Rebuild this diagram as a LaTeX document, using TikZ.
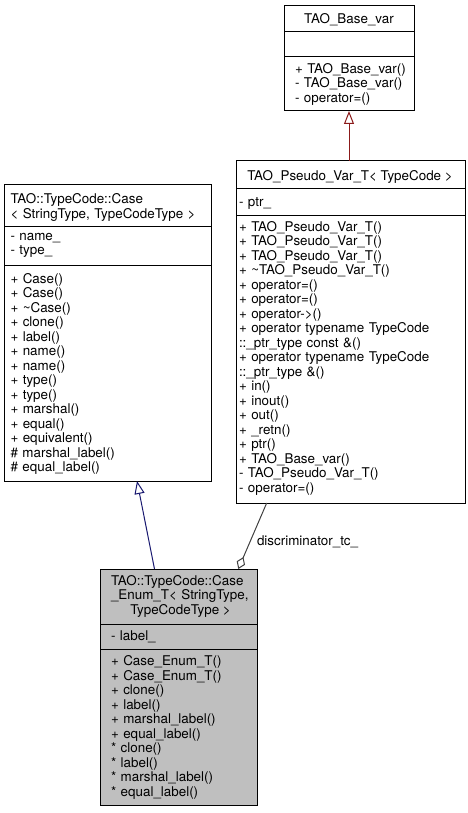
\documentclass[tikz,border=0pt]{standalone}
\usepackage{fontspec}
\setmainfont{TeX Gyre Heros}
\usetikzlibrary{arrows.meta}
\definecolor{inhred}{HTML}{8B1A1A}
\definecolor{inhblue}{HTML}{191970}
\definecolor{aggrgrey}{HTML}{404040}
\definecolor{boxgrey}{HTML}{BFBFBF}
\begin{document}
\begin{tikzpicture}[x=1pt,y=-1pt,
  cls/.style={draw=black, line width=1pt, inner sep=0pt, outer sep=0pt, anchor=north west},
  sep/.style={draw=black, line width=1pt},
  lbl/.style={anchor=base west, inner sep=0pt, outer sep=0pt, align=left, text width=#1,
    font=\fontsize{13.4}{14.5}\selectfont},
  ttl/.style={anchor=base, inner sep=0pt, outer sep=0pt, font=\fontsize{13.4}{14.5}\selectfont},
  inhr/.style={draw=inhred, line width=1pt, -{Triangle[open, length=13pt, width=10pt]}},
  inhb/.style={draw=inhblue, line width=1pt, -{Triangle[open, length=13pt, width=10pt]}},
  aggr/.style={draw=aggrgrey, line width=1pt, -{Diamond[open, length=13pt, width=9pt]}}
]
\useasboundingbox (0,0) rectangle (468,813);

% ---------- TAO_Base_var ----------
\node[cls, minimum width=130pt, minimum height=105pt] (base) at (284,6) {};
\draw[sep] ([yshift=-26pt]base.north west) -- ([yshift=-26pt]base.north east);
\draw[sep] ([yshift=-51pt]base.north west) -- ([yshift=-51pt]base.north east);
\node[ttl] (baset) at (349,24) {TAO\_Base\_var};
\node[lbl=117pt] (basem) at (295,73.5) {+ TAO\_Base\_var()\\- TAO\_Base\_var()\\- operator=()};

% ---------- TAO_Pseudo_Var_T ----------
\node[cls, minimum width=229pt, minimum height=342pt] (pseudo) at (236,161) {};
\draw[sep] ([yshift=-27pt]pseudo.north west) -- ([yshift=-27pt]pseudo.north east);
\draw[sep] ([yshift=-54pt]pseudo.north west) -- ([yshift=-54pt]pseudo.north east);
\node[ttl] (pseudot) at (350,180.5) {TAO\_Pseudo\_Var\_T< TypeCode >};
\node[lbl=223pt] (pseudoa) at (239,206.5) {- ptr\_};
\node[lbl=223pt] (pseudom) at (239,231) {+ TAO\_Pseudo\_Var\_T()\\+ TAO\_Pseudo\_Var\_T()\\+ TAO\_Pseudo\_Var\_T()\\+ \textasciitilde TAO\_Pseudo\_Var\_T()\\+ operator=()\\+ operator=()\\+ operator->()\\+ operator typename TypeCode\\::\_ptr\_type const \&()\\+ operator typename TypeCode\\::\_ptr\_type \&()\\+ in()\\+ inout()\\+ out()\\+ \_retn()\\+ ptr()\\+ TAO\_Base\_var()\\- TAO\_Pseudo\_Var\_T()\\- operator=()};

% ---------- TAO::TypeCode::Case ----------
\node[cls, minimum width=207pt, minimum height=296pt] (case) at (4,185) {};
\draw[sep] ([yshift=-41pt]case.north west) -- ([yshift=-41pt]case.north east);
\draw[sep] ([yshift=-80pt]case.north west) -- ([yshift=-80pt]case.north east);
\node[lbl=197pt] (caset) at (10.5,203.5) {TAO::TypeCode::Case\\< StringType, TypeCodeType >};
\node[lbl=197pt] (casea) at (10.5,240) {- name\_\\- type\_};
\node[lbl=197pt] (casem) at (10.5,283) {+ Case()\\+ Case()\\+ \textasciitilde Case()\\+ clone()\\+ label()\\+ name()\\+ name()\\+ type()\\+ type()\\+ marshal()\\+ equal()\\+ equivalent()\\\# marshal\_label()\\\# equal\_label()};

% ---------- TAO::TypeCode::Case_Enum_T ----------
\node[cls, fill=boxgrey, minimum width=157pt, minimum height=236pt] (enum) at (100,569) {};
\draw[sep] ([yshift=-55pt]enum.north west) -- ([yshift=-55pt]enum.north east);
\draw[sep] ([yshift=-80pt]enum.north west) -- ([yshift=-80pt]enum.north east);
\node[lbl=143pt] (enumt) at (111,585) {TAO::TypeCode::Case\\\_Enum\_T< StringType,};
\node[ttl] (enumt2) at (180.5,614) {TypeCodeType >};
\node[lbl=143pt] (enuma) at (111,640.5) {- label\_};
\node[lbl=143pt] (enumm) at (111,665.5) {+ Case\_Enum\_T()\\+ Case\_Enum\_T()\\+ clone()\\+ label()\\+ marshal\_label()\\+ equal\_label()\\{}* clone()\\{}* label()\\{}* marshal\_label()\\{}* equal\_label()};

% ---------- connectors ----------
\draw[inhr] (base.south |- pseudo.north) -- (base.south);
\draw[inhb] ([xshift=-24pt]enum.north) -- ([xshift=29.5pt]case.south);
\draw[aggr] ([xshift=30.7pt]pseudo.south west) -- ([xshift=-18.7pt]enum.north east);
\node[lbl=120pt] (dlabel) at (257,545) {discriminator\_tc\_};
\end{tikzpicture}
\end{document}
